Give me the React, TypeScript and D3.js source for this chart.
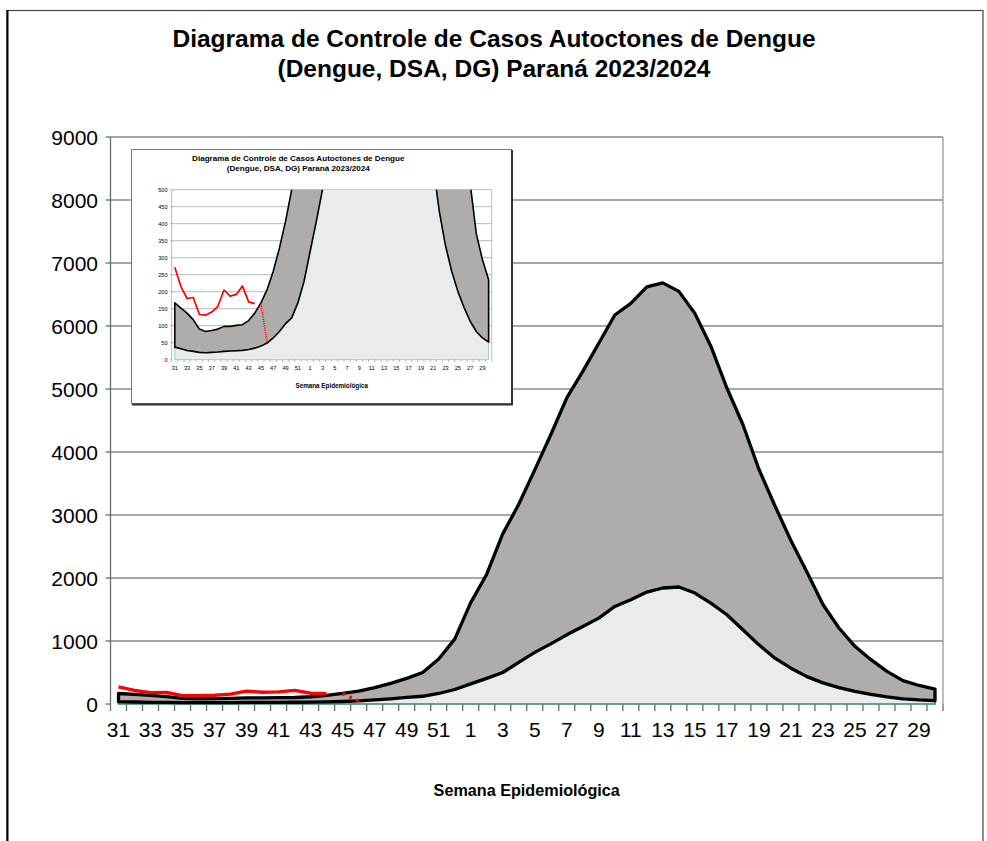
import React from "react";
import * as d3 from "d3";

const weeks = [
  "31","32","33","34","35","36","37","38","39","40","41","42","43","44","45","46","47","48","49","50","51","52",
  "1","2","3","4","5","6","7","8","9","10","11","12","13","14","15","16","17","18","19","20","21","22","23","24","25","26","27","28","29","30",
];

const upperLimit = [
  167, 152, 137, 118, 90, 83, 86, 90, 98, 98, 101, 103, 115, 137, 167, 206, 260, 328, 407, 500, 714, 1030,
  1610, 2060, 2700, 3170, 3716, 4274, 4858, 5280, 5726, 6174, 6358, 6621, 6684, 6550, 6200, 5680, 5016, 4437,
  3726, 3147, 2595, 2095, 1580, 1206, 915, 704, 519, 370, 294, 235,
];

const lowerLimit = [
  37, 32, 27, 24.5, 21.6, 20.6, 21.6, 22.5, 24.5, 25.5, 26.5, 27.5, 30, 34, 40, 49, 64, 83, 106, 123, 167, 230,
  319, 407, 500, 660, 820, 955, 1098, 1231, 1363, 1549, 1655, 1777, 1841, 1857, 1761, 1602, 1416, 1178,
  939, 727, 568, 435, 335, 260, 201, 154, 113, 83, 64, 52,
];

const currentWeeks = ["31","32","33","34","35","36","37","38","39","40","41","42","43","44"];
const currentCases = [272, 215, 180, 183, 133, 131, 140, 157, 205, 187, 192, 217, 170, 165];

const projectedWeeks = ["45", "46"];
const projectedCases = [165, 50];

const titleLines = [
  "Diagrama de Controle de Casos Autoctones de Dengue",
  "(Dengue, DSA, DG) Paraná 2023/2024",
];
const xTitle = "Semana Epidemiológica";

const FONT = "'Liberation Sans', Arial, Helvetica, sans-serif";

type Cfg = {
  id: string;
  left: number;
  right: number;
  top: number;
  bottom: number;
  yMax: number;
  yStep: number;
  labelSize: number;
  yLabelX: number;
  xLabelY: number;
  tickLen: number;
  lineW: number;
  redW: number;
  gridW: number;
  green: string;
  axisColor: string;
  dash: string;
  clip: boolean;
};

function Plot({ c }: { c: Cfg }) {
  const x = d3.scaleBand<string>().domain(weeks).range([c.left, c.right]).padding(0);
  const cx = (w: string) => (x(w) as number) + x.bandwidth() / 2;
  const y = d3.scaleLinear().domain([0, c.yMax]).range([c.bottom, c.top]);
  const idx = d3.range(weeks.length);

  const lowArea = d3
    .area<number>()
    .x((i) => cx(weeks[i]))
    .y0(y(0))
    .y1((i) => y(lowerLimit[i]));
  const midArea = d3
    .area<number>()
    .x((i) => cx(weeks[i]))
    .y0((i) => y(lowerLimit[i]))
    .y1((i) => y(upperLimit[i]));
  const curLine = d3
    .line<number>()
    .x((i) => cx(currentWeeks[i]))
    .y((i) => y(currentCases[i]));
  const projLine = d3
    .line<number>()
    .x((i) => cx(projectedWeeks[i]))
    .y((i) => y(projectedCases[i]));

  const yTicks = d3.range(0, c.yMax + 1, c.yStep);
  const bounds = [...weeks.map((w) => x(w) as number), c.right];
  const clipId = `clip-${c.id}`;

  return (
    <g>
      <defs>
        <clipPath id={clipId}>
          <rect x={c.left - 10} y={c.top} width={c.right - c.left + 20} height={c.bottom - c.top + 10} />
        </clipPath>
      </defs>
      {yTicks
        .filter((t) => t > 0)
        .map((t) => (
          <line key={`g${t}`} x1={c.left} x2={c.right} y1={y(t)} y2={y(t)} stroke="#8a8a8a" strokeWidth={c.gridW} />
        ))}
      <line x1={c.right} x2={c.right} y1={c.top} y2={c.bottom} stroke="#9a9a9a" strokeWidth={c.gridW} />
      <g clipPath={c.clip ? `url(#${clipId})` : undefined}>
        <path d={lowArea(idx) || ""} fill="#ebebeb" stroke={c.green} strokeWidth={c.gridW * 1.3} />
        <path d={midArea(idx) || ""} fill="#b0acaa" stroke="#000" strokeWidth={c.lineW} strokeLinejoin="round" />
        <path
          d={curLine(d3.range(currentWeeks.length)) || ""}
          fill="none"
          stroke="#ff0000"
          strokeWidth={c.redW}
          strokeLinejoin="round"
        />
        <path
          d={projLine(d3.range(projectedWeeks.length)) || ""}
          fill="none"
          stroke="#ff0000"
          strokeWidth={c.redW}
          strokeDasharray={c.dash}
        />
      </g>
      <line x1={c.left} x2={c.left} y1={c.top} y2={c.bottom} stroke={c.axisColor} strokeWidth={c.gridW} />
      {yTicks.map((t) => (
        <g key={`y${t}`}>
          <line x1={c.left - c.tickLen * 0.7} x2={c.left} y1={y(t)} y2={y(t)} stroke={c.axisColor} strokeWidth={c.gridW} />
          <text
            x={c.yLabelX}
            y={y(t)}
            textAnchor="end"
            dominantBaseline="central"
            fontFamily={FONT}
            fontSize={c.labelSize}
            fill="#000"
          >
            {t}
          </text>
        </g>
      ))}
      {bounds.map((b, i) => (
        <line key={`t${i}`} x1={b} x2={b} y1={c.bottom} y2={c.bottom + c.tickLen} stroke={c.axisColor} strokeWidth={c.gridW} />
      ))}
      {weeks.map((w, i) =>
        i % 2 === 0 ? (
          <text
            key={`x${w}`}
            x={cx(w)}
            y={c.xLabelY}
            textAnchor="middle"
            fontFamily={FONT}
            fontSize={c.labelSize}
            fill="#000"
          >
            {w}
          </text>
        ) : null
      )}
    </g>
  );
}

export default function App() {
  const main: Cfg = {
    id: "main",
    left: 110.5,
    right: 943,
    top: 137,
    bottom: 704,
    yMax: 9000,
    yStep: 1000,
    labelSize: 21,
    yLabelX: 98,
    xLabelY: 737,
    tickLen: 7,
    lineW: 3.3,
    redW: 3.4,
    gridW: 1.3,
    green: "#2f8f5f",
    axisColor: "#6a6a6a",
    dash: "2.5,5",
    clip: false,
  };
  const inset: Cfg = {
    id: "inset",
    left: 171.7,
    right: 491.7,
    top: 189.7,
    bottom: 359.7,
    yMax: 500,
    yStep: 50,
    labelSize: 5.6,
    yLabelX: 167.5,
    xLabelY: 370,
    tickLen: 2.2,
    lineW: 1.6,
    redW: 1.7,
    gridW: 0.6,
    green: "#6fcfa8",
    axisColor: "#8a8a8a",
    dash: "1,1.2",
    clip: true,
  };

  return (
    <svg
      width={987}
      height={841}
      viewBox="0 0 987 841"
      style={{ position: "absolute", left: 0, top: 0, background: "#fff" }}
    >
      <rect x={0} y={0} width={987} height={841} fill="#fff" />
      <rect x={7} y={10.5} width={976} height={845} fill="#fff" stroke="#444" strokeWidth={1.2} />
      <line x1={7.5} x2={7.5} y1={10} y2={841} stroke="#000" strokeWidth={2} />

      <text x={494} y={47} textAnchor="middle" fontFamily={FONT} fontWeight="bold" fontSize={24.5}>
        {titleLines[0]}
      </text>
      <text x={494} y={77} textAnchor="middle" fontFamily={FONT} fontWeight="bold" fontSize={24.5}>
        {titleLines[1]}
      </text>

      <Plot c={main} />

      <text x={526.7} y={796} textAnchor="middle" fontFamily={FONT} fontWeight="bold" fontSize={16.2}>
        {xTitle}
      </text>

      {/* inset */}
      <rect x={131.5} y={149.5} width={380} height={254} fill="#fff" stroke="#777" strokeWidth={1} />
      <line x1={512} x2={512} y1={150} y2={405} stroke="#333" strokeWidth={2} />
      <line x1={132} x2={513} y1={404.5} y2={404.5} stroke="#333" strokeWidth={2} />
      <text x={298.3} y={161} textAnchor="middle" fontFamily={FONT} fontWeight="bold" fontSize={8.1}>
        {titleLines[0]}
      </text>
      <text x={298.3} y={170.5} textAnchor="middle" fontFamily={FONT} fontWeight="bold" fontSize={8.1}>
        {titleLines[1]}
      </text>
      <Plot c={inset} />
      <text x={331.7} y={388.3} textAnchor="middle" fontFamily={FONT} fontWeight="bold" fontSize={6.3}>
        {xTitle}
      </text>
    </svg>
  );
}
